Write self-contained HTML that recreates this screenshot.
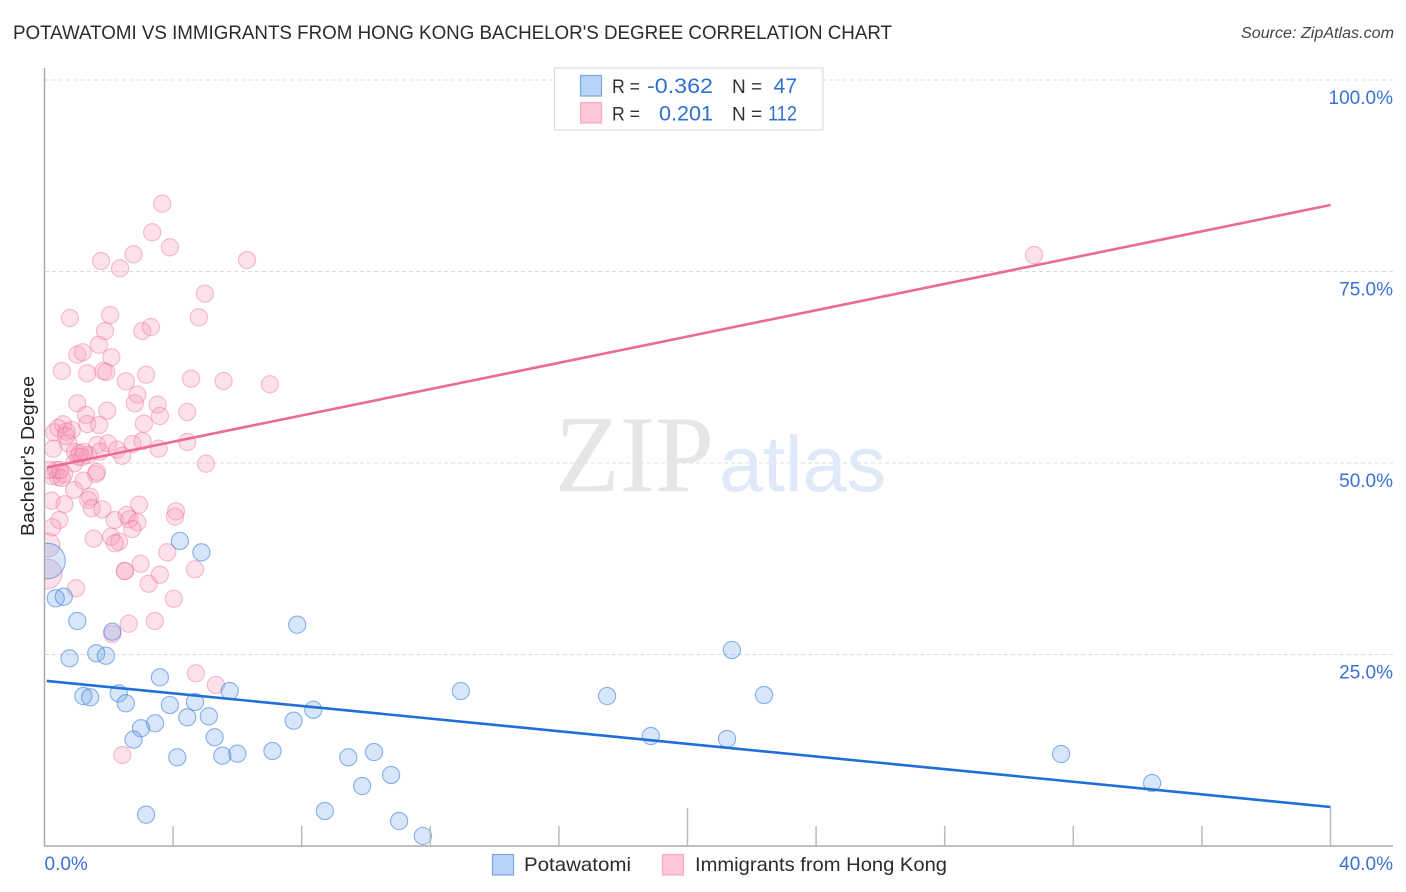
<!DOCTYPE html>
<html lang="en">
<head>
<meta charset="utf-8">
<title>Potawatomi vs Immigrants from Hong Kong Bachelor's Degree Correlation Chart</title>
<style>
html,body{margin:0;padding:0;background:#fff;width:1406px;height:892px;overflow:hidden}
svg{display:block}
text{font-family:"Liberation Sans",sans-serif}
</style>
</head>
<body>
<svg id="chart" xmlns="http://www.w3.org/2000/svg" width="1406" height="892" viewBox="0 0 1406 892">
  <defs>
    <clipPath id="plot-clip"><rect x="45" y="60" width="1350" height="786"/></clipPath>
  </defs>
  <rect x="0" y="0" width="1406" height="892" fill="#fff"/>
  <text x="13" y="39" font-size="19.5" fill="#2b2b2b" textLength="879" lengthAdjust="spacingAndGlyphs">POTAWATOMI VS IMMIGRANTS FROM HONG KONG BACHELOR'S DEGREE CORRELATION CHART</text>
  <text x="1241" y="38" font-size="15.5" font-style="italic" fill="#444" textLength="153" lengthAdjust="spacingAndGlyphs">Source: ZipAtlas.com</text>
  <g id="grid"></g>
  <g>
    <text x="555" y="491" font-size="109" fill="#e6e6e6" textLength="159" lengthAdjust="spacingAndGlyphs" style="font-family:'Liberation Serif',serif">ZIP</text>
    <text x="719" y="491" font-size="79" fill="#e0e9f8" textLength="167" lengthAdjust="spacingAndGlyphs">atlas</text>
  </g>
  <g id="marks" clip-path="url(#plot-clip)"></g>
  <g id="trends"></g>
  <g id="axes"></g>
  <text transform="translate(34,456) rotate(-90)" font-size="18.5" fill="#222" text-anchor="middle" textLength="160" lengthAdjust="spacingAndGlyphs">Bachelor's Degree</text>

  <g>
    <rect x="554.5" y="68" width="268.5" height="62" fill="#fff" stroke="#ddd" stroke-width="1.2"/>
    <rect x="580.5" y="75.5" width="21" height="20.5" fill="#b9d3f8" stroke="#7ba7e2" stroke-width="1.2"/>
    <rect x="580.5" y="102.5" width="21" height="20.5" fill="#fdc7d8" stroke="#f6abc3" stroke-width="1.2"/>
    <text x="612" y="93" font-size="19" fill="#333" textLength="28" lengthAdjust="spacingAndGlyphs">R =</text>
    <text x="713" y="93" font-size="21" fill="#2f6fd1" text-anchor="end" textLength="66" lengthAdjust="spacingAndGlyphs">-0.362</text>
    <text x="732" y="93" font-size="19" fill="#333">N =</text>
    <text x="797" y="93" font-size="21" fill="#2f6fd1" text-anchor="end">47</text>
    <text x="612" y="120.5" font-size="19" fill="#333" textLength="28" lengthAdjust="spacingAndGlyphs">R =</text>
    <text x="713" y="120.5" font-size="21" fill="#2f6fd1" text-anchor="end" textLength="54" lengthAdjust="spacingAndGlyphs">0.201</text>
    <text x="732" y="120.5" font-size="19" fill="#333">N =</text>
    <text x="797" y="120.5" font-size="21" fill="#2f6fd1" text-anchor="end" textLength="29" lengthAdjust="spacingAndGlyphs">112</text>
  </g>

  <g>
    <rect x="492.5" y="854.5" width="21" height="20.5" fill="#b9d3f8" stroke="#7ba7e2" stroke-width="1.2"/>
    <text x="524" y="871" font-size="19.5" fill="#2b2b2b" textLength="107" lengthAdjust="spacingAndGlyphs">Potawatomi</text>
    <rect x="662.5" y="854.5" width="21" height="20.5" fill="#fdc7d8" stroke="#f6abc3" stroke-width="1.2"/>
    <text x="695" y="871" font-size="19.5" fill="#2b2b2b" textLength="252" lengthAdjust="spacingAndGlyphs">Immigrants from Hong Kong</text>
  </g>
</svg>
<script>
var yTickValues = [25, 50, 75, 100];
var yTickLabels = ["25.0%", "50.0%", "75.0%", "100.0%"];
var xTickValues = [4, 8, 12, 16, 20, 24, 28, 32, 36, 40];
var xMajorTicks = [20, 40];
var xEndValues = [0, 40];
var xEndLabels = ["0.0%", "40.0%"];

var trendX = [0.07, 40];
var potawatomiTrendY = [21.55, 5.09];
var hongKongTrendY = [49.4, 83.68];

var potawatomiX = [0.35,0.60,1.02,2.11,0.78,1.61,1.91,3.59,1.21,1.42,2.31,2.53,3.90,4.68,5.76,8.36,7.75,4.44,5.11,3.44,3.00,2.77,5.29,4.13,5.53,6.00,7.09,9.45,3.16,8.72,4.21,4.88,7.86,10.25,10.78,9.88,11.03,11.77,12.95,17.50,18.86,21.23,21.38,22.38,31.62,34.45];
var potawatomiY = [32.34,32.55,29.37,27.98,24.50,25.16,24.84,22.02,19.58,19.41,19.93,18.63,18.41,18.80,20.23,17.79,16.36,16.80,16.93,16.02,15.37,13.88,14.19,11.58,11.79,12.05,12.40,11.58,4.09,4.57,39.82,38.34,28.89,12.27,9.27,7.83,3.26,1.31,20.23,19.58,14.36,13.97,25.59,19.71,12.01,8.22];
var potawatomiHeavyX = [0.09];
var potawatomiHeavyY = [37.21];
var potawatomiHeavyWeight = [4.3];

var hongKongX = [3.66,3.35,3.90,2.77,1.76,2.35,6.30,4.99,4.80,0.79,2.04,1.88,3.04,3.31,1.69,1.02,1.19,2.08,0.54,1.33,1.83,1.92,2.53,3.16,4.56,5.57,7.01,2.89,2.81,3.52,3.59,4.44,1.02,1.95,1.29,1.33,1.70,3.09,0.30,0.58,0.43,0.69,0.85,0.74,0.27,1.64,1.98,2.74,3.05,4.44,3.55,2.26,2.42,1.73,1.36,1.10,1.05,0.92,5.02,30.78,0.23,0.36,0.42,0.54,0.61,0.14,1.60,1.63,1.21,0.92,0.22,0.62,1.42,1.36,1.47,1.80,2.94,2.18,2.56,2.64,2.89,2.73,4.09,4.06,0.46,0.24,1.53,2.07,2.32,2.19,3.82,2.99,2.50,2.50,3.59,3.24,4.68,0.98,4.02,3.43,2.62,2.11,4.71,5.33,2.42,0.95,1.17,1.23,0.67,0.48];
var hongKongY = [83.85,80.12,78.16,77.25,76.37,75.42,76.50,72.10,69.02,68.93,69.32,67.23,67.23,67.75,65.44,64.14,64.45,63.80,62.01,61.71,62.01,61.88,60.67,61.53,61.00,60.70,60.27,58.92,57.79,57.61,56.14,56.66,57.79,56.83,56.27,55.09,54.96,55.13,54.01,55.05,54.57,54.09,54.31,52.57,51.87,52.35,52.57,52.48,52.87,52.74,51.87,51.74,50.95,51.48,51.04,51.27,50.82,49.96,49.91,77.15,48.30,49.09,48.17,48.04,48.56,49.09,48.56,48.83,47.69,46.48,45.08,44.61,45.60,45.17,44.09,43.95,44.56,42.56,43.21,42.65,42.26,41.38,43.69,42.99,42.56,41.61,40.12,40.38,39.73,39.52,38.34,36.85,35.90,35.90,35.42,34.24,36.12,33.64,32.28,29.37,29.02,27.68,22.55,21.02,11.88,51.44,50.78,51.44,53.52,49.09];
var hongKongHeavyX = [0.08,0.11];
var hongKongHeavyY = [35.51,39.30];
var hongKongHeavyWeight = [3.0,1.9];

var NS = "http://www.w3.org/2000/svg";
function xScale(v){ return 44.5 + v * 32.15; }
function yScale(v){ return 846 - v * 7.66; }
function make(tag, parentId){
  var el = document.createElementNS(NS, tag);
  document.getElementById(parentId).appendChild(el);
  return el;
}
function setAttrs(el, attrs){
  for (var k in attrs) { el.setAttribute(k, attrs[k]); }
}

yTickValues.forEach(function(v, i){
  var g = make("line", "grid");
  
  
  setAttrs(g, {x1: 45, x2: 1393, y1: yScale(v), y2: yScale(v), stroke: "#dcdcdc", "stroke-width": 1, "stroke-dasharray": "4 3"});
  var t = make("text", "axes");
  
  
  setAttrs(t, {x: 1393, y: yScale(v) + 24, "font-size": 19, fill: "#3a72d4", "text-anchor": "end"});
  t.textContent = yTickLabels[i];
});

var yAxis = make("line", "axes");


setAttrs(yAxis, {x1: 44.5, x2: 44.5, y1: 68, y2: 846.5, stroke: "#aaa", "stroke-width": 1.5});

var xAxis = make("line", "axes");


setAttrs(xAxis, {x1: 44, x2: 1393, y1: 846, y2: 846, stroke: "#aaa", "stroke-width": 1.5});

xTickValues.forEach(function(v){
  var t = make("line", "axes");
  
  
  var top = xMajorTicks.indexOf(v) >= 0 ? 808 : 826;
  setAttrs(t, {x1: xScale(v), x2: xScale(v), y1: top, y2: 846, stroke: "#bbb", "stroke-width": 1.5});
});

xEndValues.forEach(function(v, i){
  var t = make("text", "axes");
  
  
  var isFirst = i === 0;
  setAttrs(t, {x: isFirst ? xScale(v) : 1393, y: 870, "font-size": 19, fill: "#3a72d4", "text-anchor": isFirst ? "start" : "end"});
  t.textContent = xEndLabels[i];
});

function drawSeries(xs, ys, weights, fill, stroke, name){
  xs.forEach(function(x, i){
    var c = make("circle", "marks");
    
    
    var w = weights ? weights[i] : 1;
    setAttrs(c, {cx: xScale(x), cy: yScale(ys[i]), r: 8.6 * Math.sqrt(w), fill: fill, stroke: stroke, "stroke-width": 1.1});
  });
}
var pinkFill = "rgba(249,155,185,0.30)", pinkStroke = "rgba(232,105,145,0.42)";
var blueFill = "rgba(110,165,235,0.28)", blueStroke = "rgba(50,120,215,0.55)";
drawSeries(hongKongX, hongKongY, null, pinkFill, pinkStroke, "hong-kong-point");
drawSeries(hongKongHeavyX, hongKongHeavyY, hongKongHeavyWeight, pinkFill, pinkStroke, "hong-kong-large-point");
drawSeries(potawatomiX, potawatomiY, null, blueFill, blueStroke, "potawatomi-point");
drawSeries(potawatomiHeavyX, potawatomiHeavyY, potawatomiHeavyWeight, blueFill, blueStroke, "potawatomi-large-point");

var pinkLine = make("line", "trends");


setAttrs(pinkLine, {x1: xScale(trendX[0]), x2: xScale(trendX[1]), y1: yScale(hongKongTrendY[0]), y2: yScale(hongKongTrendY[1]), stroke: "#ea6a98", "stroke-width": 2.6});

var blueLine = make("line", "trends");


setAttrs(blueLine, {x1: xScale(trendX[0]), x2: xScale(trendX[1]), y1: yScale(potawatomiTrendY[0]), y2: yScale(potawatomiTrendY[1]), stroke: "#1f6fd6", "stroke-width": 2.6});
</script>
</body>
</html>
